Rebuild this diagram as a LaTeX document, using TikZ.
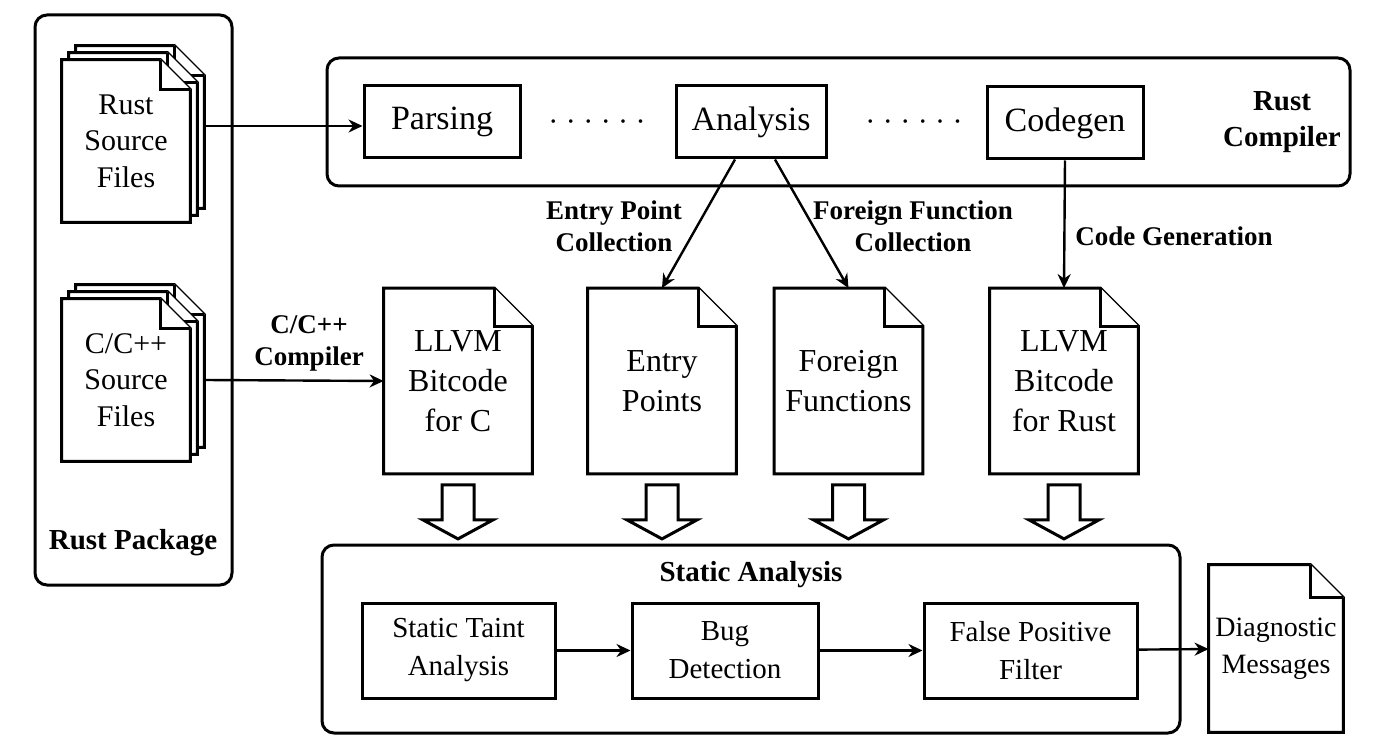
\documentclass[tikz,border=0pt]{standalone}
\usepackage{fontspec}
\setmainfont{Liberation Serif}
\usetikzlibrary{arrows.meta,positioning,calc,backgrounds}

\tikzset{
  groupbox/.style={
    rectangle, draw, rounded corners=6pt, line width=1.5pt,
    minimum width=#1, inner sep=0pt
  },
  stagebox/.style={
    rectangle, draw, line width=1.5pt, fill=white,
    minimum width=#1, minimum height=36pt,
    font=\fontsize{17}{20}\selectfont, inner sep=2pt
  },
  taskbox/.style={
    rectangle, draw, line width=1.5pt,
    minimum width=#1, minimum height=47.5pt,
    font=\fontsize{14.5}{19}\selectfont, align=center, inner sep=2pt
  },
  docfile/.style={
    rectangle, minimum width=74pt, minimum height=92.5pt,
    font=\fontsize{16}{20}\selectfont, align=center, inner sep=0pt
  },
  srcfile/.style={
    rectangle, minimum width=64pt, minimum height=81pt,
    font=\fontsize{15}{18.2}\selectfont, align=center, inner sep=0pt
  },
  msgfile/.style={
    rectangle, minimum width=67pt, minimum height=83.5pt,
    font=\fontsize{14}{18.5}\selectfont, align=center, inner sep=0pt
  },
  grouplabel/.style={
    font=\bfseries\fontsize{13.5}{16}\selectfont, align=center
  },
  biglabel/.style={
    font=\bfseries\fontsize{14.5}{18}\selectfont, align=center
  },
  dotgap/.style={font=\fontsize{15}{18}\selectfont},
  flowarrow/.style={-{Stealth[length=7pt,width=6.5pt]}, line width=1.2pt},
  docline/.style={line width=1.5pt, fill=white, line join=miter},
  hollowdown/.pic={
    \draw[docline] (-16,0) -- (16,0) -- (16,35) -- (35,35) -- (0,54)
      -- (-35,35) -- (-16,35) -- cycle;
  },
}

% page outline with folded corner: node, fold size, offset
\newcommand{\docpage}[3]{%
  \draw[docline] ($(#1.south west)+#3$) -- ($(#1.north west)+#3$)
    -- ($(#1.north east)+#3+(-#2,0)$) -- ($(#1.north east)+#3+(0,-#2)$)
    -- ($(#1.south east)+#3$) -- cycle;
  \draw[docline] ($(#1.north east)+#3+(-#2,0)$) |- ($(#1.north east)+#3+(0,-#2)$);
}

\begin{document}
\begin{tikzpicture}[x=0.5pt, y=-0.5pt]
  \useasboundingbox (0,0) rectangle (1383,754);

  % Rust package
  \node[groupbox=98.5pt, minimum height=285pt] (pkg) at (133.5,300) {};
  \node[biglabel] (pkglabel) at (133,543) {Rust Package};
  \node[srcfile] (rustsrc) at (126,141) {Rust\\Source\\Files};
  \node[srcfile] (csrc) at (126,380) {C/C++\\Source\\Files};

  % Rust compiler
  \node[groupbox=511.5pt, minimum height=64pt] (rustc) at (838.5,122) {};
  \node[biglabel] (rustclabel) at (1282,122) {Rust\\Compiler};
  \node[stagebox=78pt] (parsing) at (442,122) {Parsing};
  \node[stagebox=75pt] (analysis) at (751,122) {Analysis};
  \node[stagebox=78pt] (codegen) at (1065,123) {Codegen};
  \node[dotgap] (gap1) at (597,126) {· · · · · ·};
  \node[dotgap] (gap2) at (914,126) {· · · · · ·};

  % intermediate files
  \node[docfile] (llvmc) at (458,381) {LLVM\\Bitcode\\for C};
  \node[docfile] (entry) at (662,381) {Entry\\Points};
  \node[docfile] (foreign) at (848.5,381) {Foreign\\Functions};
  \node[docfile] (llvmr) at (1064,381) {LLVM\\Bitcode\\for Rust};

  % static analysis
  \node[groupbox=429pt, minimum height=94pt] (static) at (751,639) {};
  \node[biglabel] (staticlabel) at (751,575) {Static Analysis};
  \node[taskbox=96.5pt] (taint) at (458.5,650.5) {Static Taint\\Analysis};
  \node[taskbox=93pt] (bug) at (725,650.5) {Bug\\Detection};
  \node[taskbox=106.5pt] (fpf) at (1030.5,650.5) {False Positive\\Filter};
  \node[msgfile] (diag) at (1276,648.5) {Diagnostic\\Messages};

  % page outlines
  \begin{scope}[on background layer]
    \docpage{rustsrc}{15pt}{(7pt,7pt)}
    \docpage{rustsrc}{15pt}{(3.5pt,3.5pt)}
    \docpage{rustsrc}{15pt}{(0pt,0pt)}
    \docpage{csrc}{15pt}{(7pt,7pt)}
    \docpage{csrc}{15pt}{(3.5pt,3.5pt)}
    \docpage{csrc}{15pt}{(0pt,0pt)}
    \docpage{llvmc}{19pt}{(0pt,0pt)}
    \docpage{entry}{19pt}{(0pt,0pt)}
    \docpage{foreign}{19pt}{(0pt,0pt)}
    \docpage{llvmr}{19pt}{(0pt,0pt)}
    \docpage{diag}{16.5pt}{(0pt,0pt)}
  \end{scope}

  % connectors
  \draw[flowarrow] ([xshift=7pt,yshift=-2pt]rustsrc.east |- parsing.west) -- ([yshift=-2pt]parsing.west);
  \draw[flowarrow] ([xshift=7pt]csrc.east) -- (llvmc.west)
    node[grouplabel, midway, above=0.5pt, xshift=7.5pt] (cclabel) {C/C++\\Compiler};
  \draw[flowarrow] ([xshift=-8pt]analysis.south) -- (entry.north);
  \draw[flowarrow] ([xshift=12pt]analysis.south) -- (foreign.north);
  \draw[flowarrow] (codegen.south) -- (llvmr.north);
  \node[grouplabel] (entrylabel) at (614,226) {Entry Point\\Collection};
  \node[grouplabel] (foreignlabel) at (913,226) {Foreign Function\\Collection};
  \node[grouplabel] (codegenlabel) at (1174,236) {Code Generation};

  \pic at ([yshift=-5.5pt]llvmc.south) {hollowdown};
  \pic at ([yshift=-5.5pt]entry.south) {hollowdown};
  \pic at ([yshift=-5.5pt]foreign.south) {hollowdown};
  \pic at ([yshift=-5.5pt]llvmr.south) {hollowdown};

  \draw[flowarrow] (taint) -- (bug);
  \draw[flowarrow] (bug) -- (fpf);
  \draw[flowarrow] (fpf) -- (diag);
\end{tikzpicture}
\end{document}
